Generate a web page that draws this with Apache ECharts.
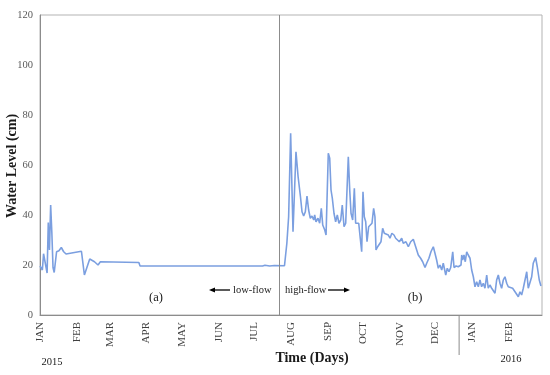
<!DOCTYPE html>
<html><head><meta charset="utf-8">
<script src="https://cdn.jsdelivr.net/npm/echarts@6/dist/echarts.min.js"></script>
<style>html,body{margin:0;padding:0;background:#fff}#c{width:550px;height:375px}</style>
</head><body><div id="c"></div>
<script>
// Day index counted from 1 Jan 2015
const monthDays = [0,31,59,90,120,151,181,212,243,273,304,334,365,396];
const monthLabels = ['JAN','FEB','MAR','APR','MAY','JUN','JUL','AUG','SEP','OCT','NOV','DEC','JAN','FEB'];
const yearLabels = ['2015','2016'];
const days = [0,2,3,4,6,7,7.5,8,9,10,11,12,14,16,18,20,22,35,36,37.5,39,42,46,49,51,83.5,84.5,188,190,194,198,206.5,
  208.5,210,211.7,213.7,216.2,218,220,221.3,222.7,224.1,225.5,226.9,228.3,229.7,231.2,232,233.1,234.8,236.2,237.6,238.8,240.5,
  241.6,243.5,244.7,245.8,246.9,248.3,249.7,251.1,252.5,254,255.3,256.8,258.2,260.4,261.6,262.7,264.1,265.5,266.6,268,269.2,
  270.5,271.7,272.8,273.9,275.1,276.2,277.6,279,280.4,281.8,282.9,283.8,285.2,286.6,288,289.4,290.8,294.2,295.6,297.2,299,
  300.4,301.8,303.5,305.5,306.8,309.1,311.1,313.1,315.3,317.3,319.5,321.5,323.2,325.2,326.6,328.5,330.2,332.2,333.6,335,336.4,
  337.8,339.3,340.6,342.7,344,345.4,346.9,348.6,349.7,351.4,353.3,355.6,356.2,357,358.1,359.2,360.4,361.7,363.2,364.6,366,
  367.4,368.8,370.2,371.6,373,374.4,375.8,377.3,378.6,380,381.5,382.9,384.3,385.7,387.1,388.5,389.9,391.3,392.7,394.2,395.5,
  397,399.2,401.2,402.6,404,405.4,406.8,408.2,409.6,411.1,412.4,413.9,415.3,416.6,418.6,420,421.7,423.1];
const levels = [19.6,18,24.5,25,16.8,37,30,26,44,33,19,17,25.3,25.7,27,25.3,24.4,25.5,25.2,16,15.6,22.4,21.3,20,21.3,21,19.6,19.6,19.9,19.6,19.8,19.7,
  28.7,39.3,72.7,33.3,65.3,55.3,47.3,41.3,39.6,41.3,47.6,42,38.7,39.6,38,40,37.3,38.7,36.7,42.7,36,34,
  32,64.7,62.7,50,46.7,40.7,37.3,40,36.7,38,44,35.3,36.7,63.3,50,40.7,38,50.7,36.7,36,36.7,
  30.7,25.3,49.3,39.3,37.3,29.3,35.3,34.7,36.7,42.7,39.3,26,27.3,28,29.3,34.7,32.7,32,30.7,32.7,32,
  30.7,31.3,29.3,30.7,28.7,29.3,27.3,29.3,30.3,27.3,24,22.7,21.3,19,20.7,22.7,25.3,27.3,24.7,22,18.7,
  20,18,20.7,16,18.7,17.3,19,25.3,19,19.6,19.3,20,24,22,24,21.3,25.3,24,22.7,18,15.3,
  11.3,13.3,11.3,14,11.3,12.7,10.7,16,10.7,12,10.7,11.3,8.7,14,16,12.7,10.7,14,15.3,12.7,11.3,
  12,10.7,9.3,10,7.3,9.3,8,10.7,10,17.3,10.7,11.3,15.3,20.7,23,19.3,14,11.6];
const flowSplitDay = 202;
const yearSplitDay = 354;

const data = days.map((d, i) => [d, levels[i]]);
const serif = '"Liberation Serif","Times New Roman",serif';
const chart = echarts.init(document.getElementById('c'));
chart.setOption({
  animation: false,
  grid: { left: 40, right: 8, top: 15, bottom: 60, containLabel: false, outerBoundsMode: 'none',
          show: true, borderColor: '#b3b3b3', borderWidth: 1 },
  xAxis: {
    type: 'value', min: 0, max: 424,
    axisLine: { show: true, lineStyle: { color: '#8c8c8c' } },
    axisTick: { show: false },
    splitLine: { show: false },
    axisLabel: {
      customValues: monthDays, rotate: 90, margin: 7,
      formatter: v => monthLabels[monthDays.indexOf(v)],
      fontFamily: serif, fontSize: 11, color: '#404040'
    }
  },
  yAxis: {
    type: 'value', min: 0, max: 120, interval: 20,
    axisLine: { show: true, lineStyle: { color: '#8c8c8c' } },
    axisTick: { show: false },
    splitLine: { show: false },
    axisLabel: { fontFamily: serif, fontSize: 10.5, color: '#595959', margin: 7 }
  },
  series: [{
    type: 'line', data: data, showSymbol: false,
    lineStyle: { color: '#7b9fe0', width: 1.6 },
    markLine: {
      silent: true, symbol: 'none', label: { show: false },
      lineStyle: { color: '#8c8c8c', type: 'solid', width: 1 },
      data: [{ xAxis: flowSplitDay }]
    }
  }]
});
const px = d => chart.convertToPixel({ xAxisIndex: 0 }, d);
const sepX = px(yearSplitDay);
const txt = (x, y, s, size, align, weight) => ({ type: 'text', x: x, y: y,
  style: { text: s, font: (weight || 'normal') + ' ' + size + 'px ' + serif, fill: '#1a1a1a', align: align || 'center', verticalAlign: 'middle' } });
const yName = txt(0, 0, 'Water Level (cm)', 14, 'center', 'bold');
yName.x = 12; yName.y = 166; yName.rotation = Math.PI / 2;
chart.setOption({
  graphic: [
    { type: 'line', shape: { x1: sepX, y1: 315, x2: sepX, y2: 355 }, style: { stroke: '#8c8c8c', lineWidth: 1 } },
    yName,
    txt(312, 358, 'Time (Days)', 14, 'center', 'bold'),
    txt(52, 362, yearLabels[0], 10.5),
    txt(511, 359, yearLabels[1], 10.5),
    txt(156, 298, '(a)', 12.5),
    txt(415, 298, '(b)', 12.5),
    txt(233, 290, 'low-flow', 10.5, 'left'),
    txt(285, 290, 'high-flow', 10.5, 'left'),
    { type: 'line', shape: { x1: 213, y1: 290, x2: 230, y2: 290 }, style: { stroke: '#000', lineWidth: 1.3 } },
    { type: 'polygon', shape: { points: [[209, 290], [215, 287.5], [215, 292.5]] }, style: { fill: '#000' } },
    { type: 'line', shape: { x1: 328, y1: 290, x2: 346, y2: 290 }, style: { stroke: '#000', lineWidth: 1.3 } },
    { type: 'polygon', shape: { points: [[350, 290], [344, 287.5], [344, 292.5]] }, style: { fill: '#000' } }
  ]
});
</script></body></html>
